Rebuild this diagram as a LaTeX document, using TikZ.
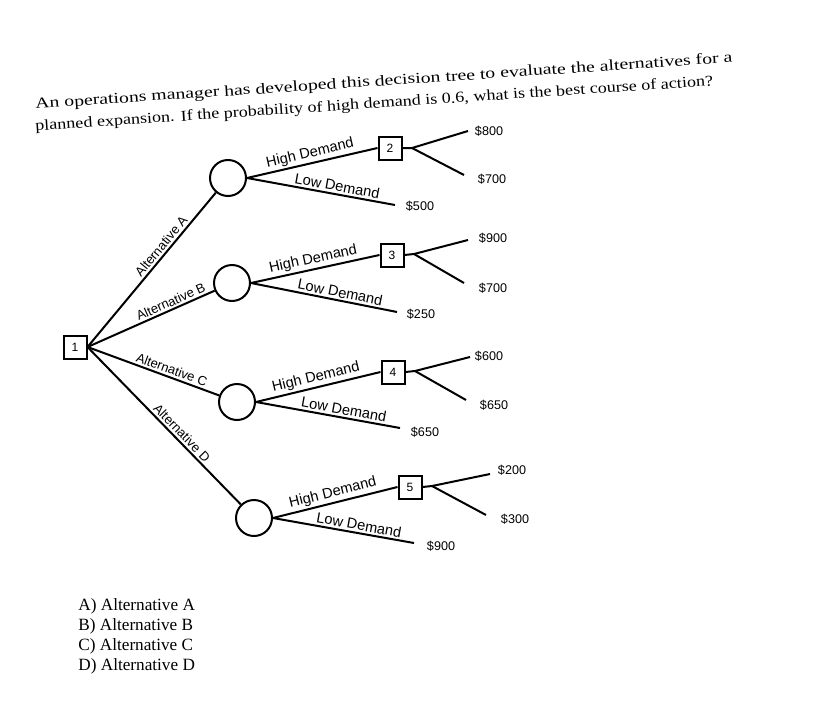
\documentclass[tikz,border=0pt]{standalone}
\usepackage{fontspec}
\setmainfont{Liberation Serif}
\newfontfamily\lsans{Liberation Sans}
\begin{document}
\begin{tikzpicture}[x=0.5pt,y=-0.5pt,
  dbox/.style={draw,line width=1pt,minimum size=11.5pt,inner sep=0pt,font=\lsans\fontsize{6}{6}\selectfont},
  chance/.style={draw,line width=1pt,circle,minimum size=18pt,inner sep=0pt},
  br/.style={line width=1pt},
  lab/.style={font=\lsans\fontsize{7.3}{8}\selectfont,inner sep=1pt},
  alab/.style={font=\lsans\fontsize{6.5}{7}\selectfont,inner sep=1pt},
  val/.style={font=\lsans\fontsize{6.3}{7}\selectfont,inner sep=0pt},
  q/.style={font=\fontsize{7.6}{9}\selectfont,anchor=west,inner sep=0pt,rotate=3.8}]
\useasboundingbox[fill=white] (0,0) rectangle (828,717);
\node[q] (q1) at (35,105) {\scalebox{1.3}[1]{An operations manager has developed this decision tree to evaluate the alternatives for a}};
\node[q] (q2) at (35,127) {\scalebox{1.19}[1]{planned expansion. If the probability of high demand is 0.6, what is the best course of action?}};
\node[dbox] (n1) at (75,347) {1};
\node[chance] (ca) at (228,178) {};
\node[chance] (cb) at (232,283) {};
\node[chance] (cc) at (237,402) {};
\node[chance] (cd) at (254,518) {};
\node[dbox] (n2) at (390,148) {2};
\node[dbox] (n3) at (392,255) {3};
\node[dbox] (n4) at (393,372) {4};
\node[dbox] (n5) at (410,487) {5};
% alternatives
\draw[br] (n1.east) -- (ca) node[alab,pos=0.62,sloped,above] {Alternative A};
\draw[br] (n1.east) -- (cb) node[alab,pos=0.68,sloped,above] {Alternative B};
\draw[br] (n1.east) -- (cc) node[alab,pos=0.62,sloped,above] {Alternative C};
\draw[br] (n1.east) -- (cd) node[alab,pos=0.58,sloped,above] {Alternative D};
% end coordinates
\coordinate (la) at (395,205); \coordinate (lb) at (397,312);
\coordinate (lc) at (400,428); \coordinate (ld) at (414,543);
\foreach \c/\b/\l in {ca/n2/la, cb/n3/lb, cc/n4/lc, cd/n5/ld}{
  \draw[br] (\c.east) -- (\b.west) node[lab,pos=0.5,sloped,above] {High Demand};
  \draw[br] (\c.east) -- (\l) node[lab,pos=0.6,sloped,above] {Low Demand};
}
\node[val] (v500) at (420,206) {\$500};
\node[val] (v250) at (421,314) {\$250};
\node[val] (v650b) at (425,432) {\$650};
\node[val] (v900b) at (441,546) {\$900};
% fans
\coordinate (f2) at (412,148); \coordinate (e2a) at (468,131); \coordinate (e2b) at (464,175);
\coordinate (f3) at (414,254); \coordinate (e3a) at (468,240); \coordinate (e3b) at (464,283);
\coordinate (f4) at (415,371); \coordinate (e4a) at (470,357); \coordinate (e4b) at (466,400);
\coordinate (f5) at (432,486); \coordinate (e5a) at (490,474); \coordinate (e5b) at (486,515);
\foreach \b/\f/\x/\y in {n2/f2/e2a/e2b, n3/f3/e3a/e3b, n4/f4/e4a/e4b, n5/f5/e5a/e5b}{
  \draw[br] (\b.east) -- (\f) -- (\x); \draw[br] (\f) -- (\y);
}
\node[val] (v800) at (489,131) {\$800};
\node[val] (v700a) at (492,179) {\$700};
\node[val] (v900) at (493,238) {\$900};
\node[val] (v700b) at (493,288) {\$700};
\node[val] (v600) at (489,356) {\$600};
\node[val] (v650) at (494,405) {\$650};
\node[val] (v200) at (512,470) {\$200};
\node[val] (v300) at (515,519) {\$300};
% answers
\begin{scope}[every node/.style={font=\fontsize{8.6}{9}\selectfont,anchor=west,inner sep=0pt}]
\node (aa) at (78,606) {A) Alternative A};
\node (ab) at (78,626) {B) Alternative B};
\node (ac) at (78,646) {C) Alternative C};
\node (ad) at (78,666) {D) Alternative D};
\end{scope}
\end{tikzpicture}
\end{document}
